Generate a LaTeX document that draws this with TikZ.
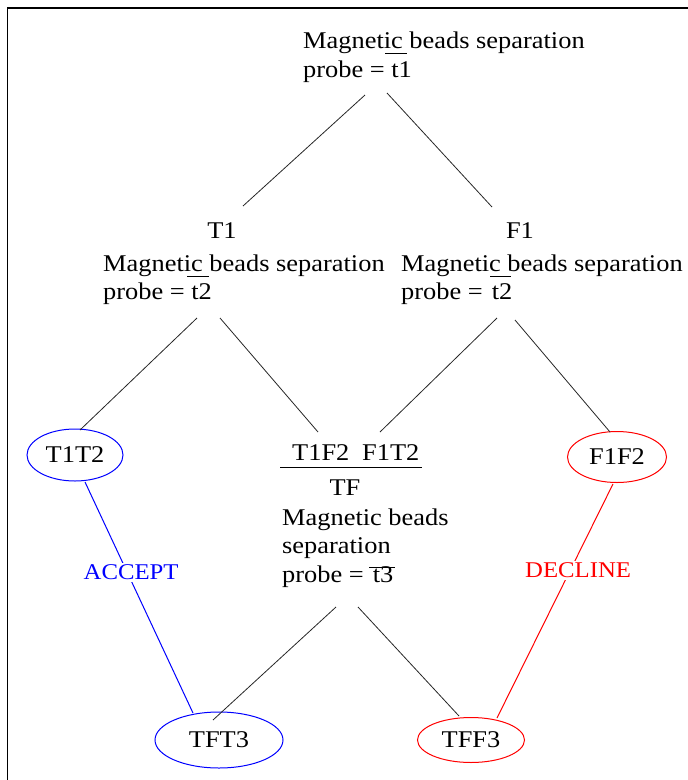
\documentclass[tikz,border=0pt]{standalone}
\usepackage{fontspec}
\setmainfont{Liberation Serif}[FakeStretch=1.1]
\usetikzlibrary{shapes.geometric}
\begin{document}
\begin{tikzpicture}[x=1pt,y=-1pt,
  txt/.style={inner sep=0pt,font=\fontsize{24}{29}\selectfont},
  lab/.style={inner sep=2pt,fill=white,font=\fontsize{22.5}{27}\selectfont},
  conn/.style={draw=black!85,line width=0.8pt},
  bar/.style={draw=black,line width=1pt},
  state/.style={ellipse,draw,line width=1pt,inner sep=0pt,font=\fontsize{24}{29}\selectfont},
  acc/.style={draw=blue,line width=1pt},
  dec/.style={draw=red,line width=1pt}]
\useasboundingbox (0,0) rectangle (688,780);
% frame (top and left edges only)
\draw[line width=2pt] (7,7.7) -- (688,7.7);
\draw[line width=1pt] (7.2,7) -- (7.2,780);

% root test
\node[txt,anchor=base west] (r1) at (303,48) {Magnetic beads separation};
\node[txt,anchor=base west] (r2) at (303,77) {probe = t1};
\draw[bar] (385,53) -- (407,53);

% branch T1
\node[txt,anchor=base] (t1h) at (222,238) {T1};
\node[txt,anchor=base west] (t1a) at (103,271) {Magnetic beads separation};
\node[txt,anchor=base west] (t1b) at (103,299) {probe = t2};
\draw[bar] (187,276) -- (209,276);

% branch F1
\node[txt,anchor=base] (f1h) at (520,238) {F1};
\node[txt,anchor=base west] (f1a) at (401,271) {Magnetic beads separation};
\node[txt,anchor=base west] (f1b) at (401,299) {probe =\hspace{9pt}t2};
\draw[bar] (490,276) -- (511,276);

% mixed outcome TF
\node[txt,anchor=base west] (tf1) at (292,460) {T1F2};
\node[txt,anchor=base west] (tf2) at (362,460) {F1T2};
\draw[bar] (280,467) -- (422,467);
\node[txt,anchor=base] (tfh) at (345,495) {TF};
\node[txt,anchor=base west] (tfa) at (282,525) {Magnetic beads};
\node[txt,anchor=base west] (tfb) at (282,553) {separation};
\node[txt,anchor=base west] (tfc) at (282,582) {probe =\hspace{9pt}t3};
\draw[bar] (369,567) -- (395,567);

% terminal states
\node[state,draw=blue,minimum width=96pt,minimum height=52pt] (tt) at (75,455) {T1T2};
\node[state,draw=red,minimum width=99pt,minimum height=51pt] (ff) at (617,457) {F1F2};
\node[state,draw=blue,minimum width=128pt,minimum height=56pt] (tft) at (219,740) {TFT3};
\node[state,draw=red,minimum width=107pt,minimum height=45pt] (tff) at (471,740) {TFF3};

% connector end points
\coordinate (rL) at (365,95);  \coordinate (rR) at (387,93);
\coordinate (aL) at (243,206); \coordinate (aR) at (492,207);
\coordinate (t1L) at (197,318); \coordinate (t1R) at (220,318);
\coordinate (f1L) at (497,318); \coordinate (f1R) at (515,320);
\coordinate (mixL) at (318,432); \coordinate (mixR) at (380,432);
\coordinate (tfL) at (336,607); \coordinate (tfR) at (358,607);
\coordinate (tftIn) at (213,720); \coordinate (tffIn) at (459,716);
\coordinate (ttTop) at (80,430); \coordinate (ffTop) at (610,432);
\coordinate (ttBot) at (85,482); \coordinate (tftTop) at (193,713);
\coordinate (ffBot) at (613,484); \coordinate (tffTop) at (497,718);

% tree edges
\draw[conn] (rL) -- (aL);
\draw[conn] (rR) -- (aR);
\draw[conn] (t1L) -- (ttTop);
\draw[conn] (t1R) -- (mixL);
\draw[conn] (f1L) -- (mixR);
\draw[conn] (f1R) -- (ffTop);
\draw[conn] (tfL) -- (tftIn);
\draw[conn] (tfR) -- (tffIn);

% decisions
\draw[acc] (ttBot) -- node[lab,text=blue,pos=0.39,xshift=4pt] (accept) {ACCEPT} (tftTop);
\draw[dec] (ffBot) -- node[lab,text=red,pos=0.37,xshift=8pt] (decline) {DECLINE} (tffTop);
\end{tikzpicture}
\end{document}
